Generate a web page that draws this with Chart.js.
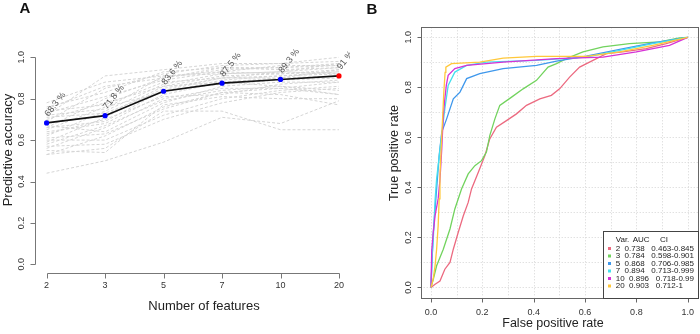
<!DOCTYPE html>
<html>
<head>
<meta charset="utf-8">
<script src="https://cdn.jsdelivr.net/npm/chart.js@4/dist/chart.umd.min.js"></script>
<style>
  html, body { margin: 0; padding: 0; background: #fff; }
  #wrap { position: relative; width: 700px; height: 334px; overflow: hidden; }
  canvas { position: absolute; top: 0; }
  #graficoA { left: 0; }
  #graficoB { left: 350px; }
</style>
</head>
<body>
<div id="wrap">
  <canvas id="graficoA" width="350" height="334"></canvas>
  <canvas id="graficoB" width="350" height="334"></canvas>
</div>
<script>
const FONT = "'Liberation Sans', Arial, sans-serif";

/* ===== painel A ===== */
const features = ["2", "3", "5", "7", "10", "20"];
const accuracy = [0.683, 0.718, 0.836, 0.875, 0.893, 0.91];
const accuracyLabels = ["68.3 %", "71.8 %", "83.6 %", "87.5 %", "89.3 %", "91 %"];
const pointColors = ["#0000ff", "#0000ff", "#0000ff", "#0000ff", "#0000ff", "#ff0000"];
const accTicks = [0, 0.2, 0.4, 0.6, 0.8, 1.0];
const greyRuns = [
  [0.44, 0.50, 0.59, 0.71, 0.68, 0.79],
  [0.53, 0.56, 0.74, 0.74, 0.65, 0.65],
  [0.53, 0.62, 0.76, 0.83, 0.82, 0.77],
  [0.56, 0.66, 0.80, 0.85, 0.85, 0.82],
  [0.59, 0.71, 0.85, 0.90, 0.91, 0.93],
  [0.62, 0.74, 0.87, 0.92, 0.93, 0.95],
  [0.64, 0.68, 0.82, 0.88, 0.90, 0.91],
  [0.66, 0.80, 0.90, 0.94, 0.95, 0.96],
  [0.69, 0.85, 0.92, 0.96, 0.97, 0.98],
  [0.72, 0.91, 0.94, 0.97, 0.97, 1.00],
  [0.74, 0.77, 0.88, 0.90, 0.93, 0.97],
  [0.76, 0.83, 0.93, 0.95, 0.94, 0.95],
  [0.78, 0.88, 0.91, 0.93, 0.96, 0.96],
  [0.71, 0.73, 0.84, 0.87, 0.89, 0.90],
  [0.67, 0.64, 0.78, 0.86, 0.88, 0.88],
  [0.60, 0.60, 0.72, 0.80, 0.84, 0.86],
  [0.57, 0.58, 0.70, 0.78, 0.83, 0.85],
  [0.63, 0.70, 0.81, 0.82, 0.87, 0.89],
  [0.70, 0.78, 0.86, 0.91, 0.92, 0.94],
  [0.73, 0.81, 0.89, 0.93, 0.92, 0.93],
  [0.65, 0.76, 0.83, 0.89, 0.91, 0.92],
  [0.58, 0.67, 0.79, 0.84, 0.86, 0.84],
  [0.68, 0.72, 0.86, 0.88, 0.86, 0.82],
  [0.61, 0.63, 0.75, 0.83, 0.85, 0.88],
  [0.75, 0.86, 0.90, 0.95, 0.95, 0.97],
  [0.55, 0.54, 0.77, 0.81, 0.80, 0.80],
  [0.72, 0.75, 0.91, 0.92, 0.93, 0.92],
  [0.66, 0.69, 0.84, 0.90, 0.90, 0.94]
];

/* ===== painel B ===== */
const rocVars = ["2", "3", "5", "7", "10", "20"];
const rocAuc = ["0.738", "0.784", "0.868", "0.894", "0.896", "0.903"];
const rocCi = ["0.463-0.845", "0.598-0.901", "0.706-0.985", "0.713-0.999", "0.718-0.99", "0.712-1"];
const rocColors = ["#ec6a80", "#72d35e", "#3f98ec", "#45e0ee", "#d632d6", "#ffc83a"];
const rateTicks = [0, 0.2, 0.4, 0.6, 0.8, 1.0];

const roc2 = [[0,0],[.016,.013],[.035,.026],[.054,.073],[.074,.10],[.087,.153],[.106,.22],[.126,.287],[.145,.34],[.158,.394],[.184,.46],[.21,.527],[.229,.594],[.255,.641],[.294,.667],[.333,.694],[.372,.728],[.424,.754],[.469,.768],[.501,.794],[.54,.841],[.579,.881],[.631,.908],[.683,.935],[.747,.942],[.838,.955],[.916,.975],[1,1]];
const roc3 = [[0,0],[.009,.033],[.022,.087],[.048,.153],[.074,.234],[.093,.314],[.119,.394],[.145,.454],[.171,.487],[.197,.507],[.216,.541],[.229,.607],[.249,.674],[.268,.728],[.314,.761],[.359,.794],[.411,.828],[.456,.881],[.489,.895],[.527,.915],[.592,.942],[.67,.962],[.773,.975],[.89,.982],[.968,.998],[1,1]];
const roc5 = [[0,0],[.004,.1],[.009,.22],[.019,.354],[.032,.528],[.042,.621],[.061,.674],[.087,.754],[.113,.781],[.139,.835],[.19,.855],[.281,.875],[.411,.888],[.489,.905],[.605,.925],[.735,.952],[.864,.978],[1,1]];
const roc7 = [[0,0],[.004,.12],[.009,.193],[.016,.35],[.022,.434],[.028,.487],[.036,.56],[.045,.64],[.054,.714],[.067,.808],[.093,.861],[.139,.888],[.216,.901],[.411,.908],[.605,.921],[.735,.948],[.864,.975],[1,1]];
const roc10 = [[0,0],[.003,.15],[.009,.22],[.016,.287],[.028,.354],[.035,.43],[.042,.554],[.048,.687],[.054,.754],[.06,.81],[.067,.848],[.093,.875],[.139,.888],[.281,.901],[.489,.915],[.67,.921],[.80,.942],[.929,.968],[1,1]];
const roc20 = [[0,0],[.008,.03],[.016,.087],[.022,.153],[.028,.247],[.032,.354],[.035,.45],[.04,.56],[.045,.67],[.05,.78],[.055,.86],[.058,.881],[.08,.895],[.19,.901],[.281,.917],[.411,.924],[.605,.924],[.735,.942],[.864,.968],[1,1]];
const rocCurves = [roc2, roc3, roc5, roc7, roc10, roc20];

function crisp(v) { return Math.round(v) + 0.5; }

/* =============================
     GRAFICO A - eixos estilo R
============================= */
const eixosA = {
  id: "eixosA",
  afterDatasetsDraw(chart) {
    const { ctx, chartArea, scales: { x, y } } = chart;
    ctx.save();

    // rotulos dos pontos
    ctx.font = `9px ${FONT}`;
    ctx.fillStyle = "#555";
    ctx.textAlign = "left";
    ctx.textBaseline = "alphabetic";
    accuracy.forEach((v, i) => {
      ctx.save();
      ctx.translate(x.getPixelForValue(i) + 2, y.getPixelForValue(v) - 6);
      ctx.rotate(-52 * Math.PI / 180);
      ctx.fillText(accuracyLabels[i], 0, 0);
      ctx.restore();
    });

    // eixo y
    const left = crisp(chartArea.left);
    ctx.strokeStyle = "#777";
    ctx.lineWidth = 1;
    ctx.beginPath();
    ctx.moveTo(left, crisp(y.getPixelForValue(0)));
    ctx.lineTo(left, crisp(y.getPixelForValue(1)));
    accTicks.forEach(t => {
      const py = crisp(y.getPixelForValue(t));
      ctx.moveTo(left - 5, py);
      ctx.lineTo(left, py);
    });
    // eixo x
    const bottom = crisp(chartArea.bottom);
    ctx.moveTo(crisp(x.getPixelForValue(0)), bottom);
    ctx.lineTo(crisp(x.getPixelForValue(features.length - 1)), bottom);
    features.forEach((f, i) => {
      const px = crisp(x.getPixelForValue(i));
      ctx.moveTo(px, bottom);
      ctx.lineTo(px, bottom + 5);
    });
    ctx.stroke();

    ctx.fillStyle = "#333";
    ctx.font = `9px ${FONT}`;
    ctx.textAlign = "center";
    ctx.textBaseline = "middle";
    accTicks.forEach(t => {
      ctx.save();
      ctx.translate(22, y.getPixelForValue(t));
      ctx.rotate(-Math.PI / 2);
      ctx.fillText(t.toFixed(1), 0, 0);
      ctx.restore();
    });
    features.forEach((f, i) => ctx.fillText(f, x.getPixelForValue(i), 286));

    // titulos
    ctx.fillStyle = "#222";
    ctx.font = `13px ${FONT}`;
    ctx.fillText("Number of features", 204, 306);
    ctx.save();
    ctx.translate(8, 150);
    ctx.rotate(-Math.PI / 2);
    ctx.fillText("Predictive accuracy", 0, 0);
    ctx.restore();

    ctx.font = `bold 15px ${FONT}`;
    ctx.fillStyle = "#111";
    ctx.fillText("A", 25, 9);
    ctx.restore();
  }
};

new Chart(document.getElementById("graficoA"), {
  type: "line",
  data: {
    datasets: [
      {
        data: accuracy.map((v, i) => ({ x: i, y: v })),
        borderColor: "#111",
        borderWidth: 1.6,
        pointRadius: 2.6,
        pointBackgroundColor: pointColors,
        pointBorderColor: pointColors,
        pointBorderWidth: 0,
        order: 0
      },
      ...greyRuns.map(run => ({
        data: run.map((v, i) => ({ x: i, y: v })),
        borderColor: "#d5d5d5",
        borderWidth: 1,
        borderDash: [3, 2],
        pointRadius: 0,
        order: 1
      }))
    ]
  },
  options: {
    responsive: false,
    animation: false,
    events: [],
    layout: { padding: { left: 34.9, right: 0, top: 49, bottom: 61.4 } },
    plugins: { legend: { display: false }, tooltip: { enabled: false } },
    scales: {
      x: { type: "linear", min: -0.2, max: 5.12, display: false },
      y: { type: "linear", min: -0.04, max: 1.04, display: false }
    }
  },
  plugins: [eixosA]
});

/* =============================
     GRAFICO B - curvas ROC
============================= */
const eixosB = {
  id: "eixosB",
  beforeDatasetsDraw(chart) {
    const { ctx, chartArea, scales: { x, y } } = chart;
    ctx.save();
    ctx.strokeStyle = "#d4d4d4";
    ctx.lineWidth = 1;
    ctx.setLineDash([1, 2]);
    ctx.beginPath();
    for (let k = 0; k <= 10; k++) {
      const px = crisp(x.getPixelForValue(k / 10));
      ctx.moveTo(px, chartArea.top);
      ctx.lineTo(px, chartArea.bottom);
      const py = crisp(y.getPixelForValue(k / 10));
      ctx.moveTo(chartArea.left, py);
      ctx.lineTo(chartArea.right, py);
    }
    ctx.stroke();
    ctx.restore();
  },
  afterDatasetsDraw(chart) {
    const { ctx, chartArea, scales: { x, y } } = chart;
    const l = crisp(chartArea.left), r = crisp(chartArea.right);
    const t = crisp(chartArea.top), b = crisp(chartArea.bottom);
    ctx.save();

    ctx.strokeStyle = "#666";
    ctx.lineWidth = 1;
    ctx.strokeRect(l, t, r - l, b - t);

    ctx.beginPath();
    rateTicks.forEach(v => {
      const px = crisp(x.getPixelForValue(v));
      ctx.moveTo(px, b);
      ctx.lineTo(px, b + 4);
      const py = crisp(y.getPixelForValue(v));
      ctx.moveTo(l - 4, py);
      ctx.lineTo(l, py);
    });
    ctx.stroke();

    ctx.fillStyle = "#333";
    ctx.font = `9px ${FONT}`;
    ctx.textAlign = "center";
    ctx.textBaseline = "middle";
    rateTicks.forEach(v => {
      ctx.fillText(v.toFixed(1), x.getPixelForValue(v), 313);
      ctx.save();
      ctx.translate(59, y.getPixelForValue(v));
      ctx.rotate(-Math.PI / 2);
      ctx.fillText(v.toFixed(1), 0, 0);
      ctx.restore();
    });

    ctx.fillStyle = "#222";
    ctx.font = `12.5px ${FONT}`;
    ctx.fillText("False positive rate", 203, 324);
    ctx.save();
    ctx.translate(45, 153);
    ctx.rotate(-Math.PI / 2);
    ctx.fillText("True positive rate", 0, 0);
    ctx.restore();

    // legenda
    const lx = 253.5, ly = 231.5;
    ctx.fillStyle = "#fff";
    ctx.fillRect(lx, ly, r - lx, b - ly);
    ctx.strokeStyle = "#444";
    ctx.strokeRect(lx, ly, r - lx, b - ly);
    ctx.font = `8px ${FONT}`;
    ctx.textAlign = "left";
    ctx.fillStyle = "#222";
    ctx.fillText("Var.", 265.7, 239.5);
    ctx.fillText("AUC", 282.7, 239.5);
    ctx.fillText("CI", 310, 239.5);
    rocVars.forEach((v, i) => {
      const ry = 248.5 + i * 7.5;
      ctx.fillStyle = rocColors[i];
      ctx.fillRect(258, ry - 1.5, 3, 3);
      ctx.fillStyle = "#222";
      ctx.fillText(`${v}  ${rocAuc[i]}   ${rocCi[i]}`, 265.7, ry);
    });

    ctx.font = `bold 15px ${FONT}`;
    ctx.fillStyle = "#111";
    ctx.textAlign = "center";
    ctx.fillText("B", 22, 10);
    ctx.restore();
  }
};

new Chart(document.getElementById("graficoB"), {
  type: "line",
  data: {
    datasets: rocCurves.map((pts, i) => ({
      label: rocVars[i],
      data: pts.map(([fp, tp]) => ({ x: fp, y: tp })),
      borderColor: rocColors[i],
      borderWidth: 1.3,
      pointRadius: 0,
      tension: 0,
      order: rocCurves.length - i
    }))
  },
  options: {
    responsive: false,
    animation: false,
    events: [],
    layout: { padding: { left: 70.7, right: 2, top: 27.3, bottom: 36.5 } },
    plugins: { legend: { display: false }, tooltip: { enabled: false } },
    scales: {
      x: { type: "linear", min: -0.04, max: 1.04, display: false },
      y: { type: "linear", min: -0.04, max: 1.04, display: false }
    }
  },
  plugins: [eixosB]
});
</script>
</body>
</html>
